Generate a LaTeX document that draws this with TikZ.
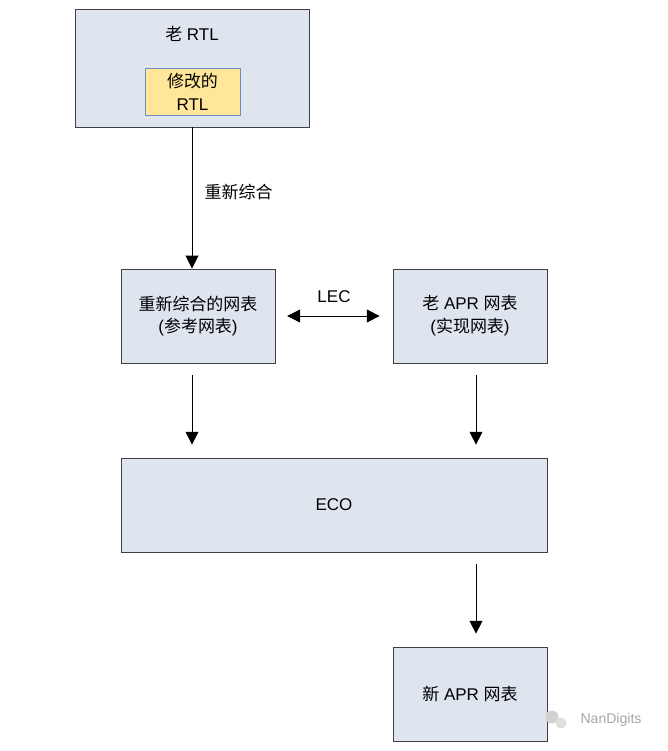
\documentclass[tikz,border=0pt]{standalone}
\usepackage{fontspec}
\setmainfont{Liberation Sans}
\newfontfamily\zhfont{Noto Sans CJK SC}
\newcommand{\zh}[1]{{\zhfont #1}}
\usetikzlibrary{arrows.meta,positioning,calc}
\definecolor{boxBlue}{RGB}{222,229,239}
\definecolor{boxEdge}{RGB}{64,64,64}
\definecolor{rtlYellow}{RGB}{255,230,153}
\definecolor{rtlEdge}{RGB}{108,142,191}

\begin{document}
\begin{tikzpicture}[x=0.03cm, y=-0.03cm, every node/.style={font=\fontsize{14.5}{19.5}\selectfont},
  flowbox/.style={draw=boxEdge, fill=boxBlue, line width=0.8pt, align=center, inner sep=0pt, minimum width=4.62cm, minimum height=2.82cm},
  flowarrow/.style={-{Triangle[length=11pt,width=11pt]}, line width=0.8pt},
  gap/.style={shorten <=10pt, shorten >=11pt}]
  \useasboundingbox (0,0) rectangle (667,751);
  % RTL boxes
  \node[flowbox, minimum width=7.02cm, minimum height=3.54cm] (oldrtl) at (192,68) {};
  \node (oldlbl) at (192,34) {\zh{老} RTL};
  \node[flowbox, draw=rtlEdge, fill=rtlYellow, minimum width=2.85cm, minimum height=1.41cm]
    (modrtl) at (192.5,91.5) {\zh{修改的}\\RTL};
  % Netlist boxes
  \node[flowbox] (resyn) at (198,316) {\zh{重新综合的网表}\\(\zh{参考网表})};
  \node[flowbox] (oldapr) at (470,316) {\zh{老} APR \zh{网表}\\(\zh{实现网表})};
  \node[flowbox, minimum width=12.78cm] (eco) at (334,505) {ECO};
  \node[flowbox] (newapr) at (470,694) {\zh{新} APR \zh{网表}};
  % Connectors
  \draw[flowarrow] (oldrtl) -- (oldrtl |- resyn.north)
    node[pos=0.46, right=0.25cm] {\zh{重新综合}};
  \draw[{Triangle[length=11pt,width=11pt]}-{Triangle[length=11pt,width=11pt]}, line width=0.8pt, gap]
    (resyn) -- (oldapr) node[midway, above=0.28cm] {LEC};
  \draw[flowarrow, gap] (oldrtl.south |- resyn.south) -- (oldrtl.south |- eco.north);
  \draw[flowarrow, gap] ([xshift=0.18cm]oldapr.south) -- ([xshift=0.18cm]oldapr.south |- eco.north);
  \draw[flowarrow, gap] ([xshift=0.18cm]newapr.north |- eco.south) -- ([xshift=0.18cm]newapr.north);
  % Watermark
  \fill[gray!35] (552,717) circle (6.5);
  \fill[gray!25] (561,723) circle (5.5);
  \node[text=gray!70, font=\fontsize{12}{14}\selectfont] (mark) at (611,720) {NanDigits};
\end{tikzpicture}
\end{document}
